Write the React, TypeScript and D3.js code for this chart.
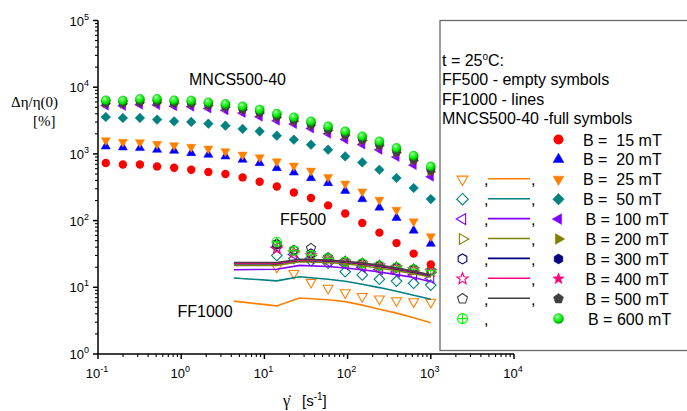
import React from "react";
import * as d3 from "d3";

const width = 687;
const height = 411;

// shear rate grid (s^-1)
const shearRate = [0.124, 0.199, 0.319, 0.513, 0.822, 1.32, 2.12, 3.4, 5.47, 8.77, 14.1, 22.6, 36.3, 58.3, 93.6, 150, 241, 387, 622, 1000];
const ff500Rate = [14.1, 22.6, 36.3, 58.3, 93.6, 150, 241, 387, 622, 1000];
const ff1000Rate = [4.3, 14, 26.5, 58.3, 93.6, 150, 241, 387, 622, 1000];

// MNCS500-40 (full symbols)
const mncs15 = [730, 695, 695, 649, 621, 579, 535, 499, 444, 383, 325, 264, 218, 169, 128, 92, 66, 46, 32, 22];
const mncs20 = [1297, 1253, 1227, 1156, 1117, 1031, 972, 917, 819, 730, 614, 527, 435, 366, 280, 210, 157, 110, 71, 45];
const mncs25 = [1596, 1510, 1490, 1409, 1343, 1270, 1197, 1091, 972, 887, 771, 665, 559, 450, 357, 273, 205, 145, 97, 58];
const mncs50 = [3573, 3457, 3457, 3265, 3077, 3013, 2840, 2647, 2366, 2178, 1876, 1633, 1374, 1156, 917, 745, 579, 435, 308, 210];
const mncs100 = [5300, 5250, 5450, 5400, 5200, 5100, 4800, 4500, 4100, 3600, 3150, 2800, 2400, 2000, 1650, 1380, 1150, 900, 680, 455];
const mncs200 = [5700, 5650, 5900, 5900, 5700, 5600, 5300, 5000, 4600, 4100, 3550, 3100, 2700, 2250, 1900, 1580, 1320, 1040, 790, 540];
const mncs300 = [5900, 5850, 6100, 6100, 5900, 5800, 5500, 5200, 4750, 4250, 3700, 3250, 2800, 2350, 1980, 1660, 1390, 1100, 840, 580];
const mncs400 = [5850, 5800, 6050, 6050, 5850, 5750, 5450, 5150, 4700, 4200, 3650, 3200, 2780, 2320, 1950, 1640, 1370, 1080, 820, 565];
const mncs500 = [5800, 5750, 6000, 6000, 5800, 5700, 5400, 5100, 4650, 4150, 3600, 3150, 2750, 2300, 1930, 1620, 1350, 1070, 810, 560];
const mncs600 = [6357, 6309, 6675, 6675, 6357, 6309, 5935, 5615, 5164, 4611, 4015, 3532, 3077, 2589, 2178, 1832, 1542, 1227, 940, 649];

// FF500 (empty symbols)
const ff500_25 = [20, 16.2, 11.9, 9.7, 8.3, 7.3, 6.7, 6.3, 6.1, 6.0];
const ff500_50 = [30, 27, 25, 22.9, 17.1, 15.3, 13.2, 12.4, 11.5, 10.8];
const ff500_100 = [40, 31, 27, 24, 22, 20, 18.5, 17, 15.3, 13.6];
const ff500_200 = [42, 34, 30, 26.5, 23.5, 22, 20.3, 19, 17.8, 16.8];
const ff500_300 = [44, 36, 32, 27.5, 24.3, 22.8, 21, 19.8, 18.5, 17.5];
const ff500_400 = [37.5, 33, 30, 26.5, 24, 22.5, 21, 19.7, 18.3, 17.3];
const ff500_500 = [45, 36, 38.5, 28, 24.5, 23, 21.3, 20, 18.8, 17.9];
const ff500_600 = [48, 35.4, 30.5, 27.2, 24.2, 22.9, 21.1, 19.9, 18.6, 17.7];

// FF1000 (lines)
const ff1000_25 = [6.2, 5.26, 6.9, 6.5, 6.1, 5.4, 4.7, 4.1, 3.5, 2.95];
const ff1000_50 = [13.8, 12.5, 14.4, 13.2, 12.3, 11.1, 9.9, 8.7, 7.6, 6.6];
const ff1000_100 = [18.3, 18.6, 21.3, 20.5, 19.5, 18.3, 17, 15.5, 14, 12.1];
const ff1000_200 = [21.3, 21.3, 24.2, 23.5, 22.5, 21, 19.5, 17.8, 16, 14.3];
const ff1000_300 = [22.5, 22.5, 25.4, 24.8, 23.8, 22.3, 20.7, 18.8, 16.8, 14.9];
const ff1000_400 = [23, 23, 25.8, 25.2, 24.2, 22.7, 21.1, 19.2, 17.2, 15.1];
const ff1000_500 = [23.5, 23.5, 26.3, 25.6, 24.6, 23.1, 21.5, 19.5, 17.5, 15.3];

const fieldLabels = ["B =  15 mT", "B =  20 mT", "B =  25 mT", "B =  50 mT", "B = 100 mT", "B = 200 mT", "B = 300 mT", "B = 400 mT", "B = 500 mT", "B = 600 mT"];
const fieldColors = ["#FF0000", "#0000FF", "#FF8000", "#008080", "#8000FF", "#808000", "#000080", "#FF0080", "#404040", "#00FF00"];
const fullShapes = ["circle", "up", "down", "diamond", "left", "right", "hex", "star", "pent", "ball"];
const emptyShapes = [null, null, "down", "diamond", "left", "right", "hex", "star", "pent", "cross"];

const mncsData = [mncs15, mncs20, mncs25, mncs50, mncs100, mncs200, mncs300, mncs400, mncs500, mncs600];
const ff500Data = [null, null, ff500_25, ff500_50, ff500_100, ff500_200, ff500_300, ff500_400, ff500_500, ff500_600];
const ff1000Data = [null, null, ff1000_25, ff1000_50, ff1000_100, ff1000_200, ff1000_300, ff1000_400, ff1000_500, null];

const xTickExp = [-1, 0, 1, 2, 3, 4];
const yTickExp = [0, 1, 2, 3, 4, 5];

const sans = "Arial, 'Liberation Sans', sans-serif";
const serif = "'Times New Roman', 'Liberation Serif', serif";

const x = d3.scaleLog().domain([0.1, 1e4]).range([98, 514]);
const y = d3.scaleLog().domain([1, 1e5]).range([354, 20.5]);

function polygon(n: number, r: number, startDeg: number, inner?: number) {
  const count = inner ? n * 2 : n;
  const pts = d3.range(count).map((k) => {
    const a = ((startDeg + (k * 360) / count) * Math.PI) / 180;
    const rr = inner && k % 2 === 1 ? inner : r;
    return [rr * Math.cos(a), rr * Math.sin(a)];
  });
  return "M" + pts.map((p) => p[0].toFixed(2) + "," + p[1].toFixed(2)).join("L") + "Z";
}

function shapePath(shape: string, r: number) {
  switch (shape) {
    case "up": return polygon(3, r * 1.25, -90);
    case "down": return polygon(3, r * 1.25, 90);
    case "left": return polygon(3, r * 1.25, 180);
    case "right": return polygon(3, r * 1.25, 0);
    case "diamond": return polygon(4, r * 1.15, -90);
    case "hex": return polygon(6, r, -90);
    case "pent": return polygon(5, r * 1.05, -90);
    case "star": return polygon(5, r * 1.2, -90, r * 0.5);
    default: return "";
  }
}

function Marker({ shape, cx, cy, r, color, filled }: any) {
  if (shape === "ball") {
    return <circle cx={cx} cy={cy} r={r} fill="url(#ball)" stroke="#00a000" strokeWidth={0.4} />;
  }
  if (shape === "circle") {
    return filled
      ? <circle cx={cx} cy={cy} r={r} fill={color} />
      : <circle cx={cx} cy={cy} r={r} fill="none" stroke={color} strokeWidth={1.1} />;
  }
  if (shape === "cross") {
    return (
      <g transform={`translate(${cx},${cy})`} fill="none" stroke={color} strokeWidth={1.1}>
        <circle r={r} />
        <path d={`M${-r},0H${r}M0,${-r}V${r}`} />
      </g>
    );
  }
  return (
    <path
      d={shapePath(shape, r)}
      transform={`translate(${cx},${cy})`}
      fill={filled ? color : "none"}
      stroke={color}
      strokeWidth={filled ? 0.5 : 1.1}
      strokeLinejoin="miter"
    />
  );
}

export default function App() {
  const line = d3
    .line<[number, number]>()
    .x((d) => x(d[0]))
    .y((d) => y(d[1]));

  const xMinor: number[] = [];
  const yMinor: number[] = [];
  xTickExp.slice(0, -1).forEach((e) => d3.range(2, 10).forEach((m) => xMinor.push(m * Math.pow(10, e))));
  yTickExp.slice(0, -1).forEach((e) => d3.range(2, 10).forEach((m) => yMinor.push(m * Math.pow(10, e))));

  const rowY = (k: number) => 139.5 + k * 19.9;

  return (
    <svg width={width} height={height} style={{ position: "absolute", left: 0, top: 0, background: "#fff" }}>
      <defs>
        <radialGradient id="ball" cx="38%" cy="32%" r="65%">
          <stop offset="0%" stopColor="#f4fff4" />
          <stop offset="25%" stopColor="#50ff50" />
          <stop offset="75%" stopColor="#00e800" />
          <stop offset="100%" stopColor="#00a000" />
        </radialGradient>
      </defs>

      {/* legend frame */}
      <rect x={440} y={20.5} width={260} height={330} fill="none" stroke="#6a6a6a" strokeWidth={1.3} />

      {/* FF500 empty symbols */}
      {ff500Data.map((vals, k) =>
        vals ? (
          <g key={"e" + k}>
            {vals.map((v, i) => (
              <Marker key={i} shape={emptyShapes[k]} cx={x(ff500Rate[i])} cy={y(v)} r={4.6} color={fieldColors[k]} filled={false} />
            ))}
          </g>
        ) : null
      )}

      {/* FF1000 lines */}
      {ff1000Data.map((vals, k) =>
        vals ? (
          <path
            key={"l" + k}
            d={line(vals.map((v, i) => [ff1000Rate[i], v]) as [number, number][]) || ""}
            fill="none"
            stroke={fieldColors[k]}
            strokeWidth={1.6}
          />
        ) : null
      )}

      {/* MNCS500-40 full symbols */}
      {mncsData.map((vals, k) => (
        <g key={"f" + k}>
          {vals.map((v, i) => (
            <Marker key={i} shape={fullShapes[k]} cx={x(shearRate[i])} cy={y(v)} r={k === 9 ? 4.6 : 4.2} color={fieldColors[k]} filled={true} />
          ))}
        </g>
      ))}

      {/* axes */}
      <g stroke="#000" strokeWidth={1.5} fill="none">
        <line x1={x(0.1)} x2={x(1e4)} y1={y(1)} y2={y(1)} />
        <line x1={x(0.1)} x2={x(0.1)} y1={y(1)} y2={y(1e5)} />
        {xTickExp.map((e) => (
          <line key={"xt" + e} x1={x(Math.pow(10, e))} x2={x(Math.pow(10, e))} y1={y(1)} y2={y(1) + 5} />
        ))}
        {xMinor.map((v, i) => (
          <line key={"xm" + i} x1={x(v)} x2={x(v)} y1={y(1)} y2={y(1) + 3} strokeWidth={1.1} />
        ))}
        {yTickExp.map((e) => (
          <line key={"yt" + e} x1={x(0.1) - 5} x2={x(0.1)} y1={y(Math.pow(10, e))} y2={y(Math.pow(10, e))} />
        ))}
        {yMinor.map((v, i) => (
          <line key={"ym" + i} x1={x(0.1) - 3} x2={x(0.1)} y1={y(v)} y2={y(v)} strokeWidth={1.1} />
        ))}
      </g>

      <g fontFamily={sans} fontSize={13} fill="#000">
        {xTickExp.map((e) => (
          <text key={"xl" + e} x={x(Math.pow(10, e)) - 1} y={378} textAnchor="middle">
            10<tspan fontSize={9} dy={-6}>{e}</tspan>
          </text>
        ))}
        {yTickExp.map((e) => (
          <text key={"yl" + e} x={89} y={y(Math.pow(10, e)) + 5} textAnchor="end">
            10<tspan fontSize={9} dy={-6}>{e}</tspan>
          </text>
        ))}
      </g>

      {/* axis titles */}
      <text x={11} y={107} fontFamily={serif} fontSize={15}>Δη/η(0)</text>
      <text x={33} y={126} fontFamily={serif} fontSize={15}>[%]</text>
      <text x={283} y={406} fontFamily={serif} fontSize={16}>γ̇</text>
      <text x={302} y={406} fontFamily={sans} fontSize={15}>
        [s<tspan fontSize={10} dy={-6}>-1</tspan><tspan dy={6}>]</tspan>
      </text>

      {/* annotations */}
      <g fontFamily={sans} fontSize={16} fill="#000">
        <text x={189} y={85}>MNCS500-40</text>
        <text x={280} y={225}>FF500</text>
        <text x={177.5} y={316.5}>FF1000</text>
      </g>

      {/* legend */}
      <g fontFamily={sans} fontSize={16} fill="#000">
        <text x={442} y={65.5}>
          t = 25<tspan fontSize={10} dy={-6}>o</tspan><tspan dy={6}>C:</tspan>
        </text>
        <text x={442} y={85}>FF500 - empty symbols</text>
        <text x={442} y={104.7}>FF1000 - lines</text>
        <text x={442} y={124.4}>MNCS500-40 -full symbols</text>
        {fieldLabels.map((lab, k) => (
          <g key={"lg" + k}>
            {emptyShapes[k] ? (
              <>
                <Marker shape={emptyShapes[k]} cx={462.5} cy={rowY(k)} r={5} color={fieldColors[k]} filled={false} />
                <text x={484} y={rowY(k) + 6}>,</text>
              </>
            ) : null}
            {ff1000Data[k] ? (
              <>
                <line x1={488} x2={530} y1={rowY(k) - 0.5} y2={rowY(k) - 0.5} stroke={fieldColors[k]} strokeWidth={1.6} />
                <text x={531} y={rowY(k) + 6}>,</text>
              </>
            ) : null}
            <Marker shape={fullShapes[k]} cx={558.5} cy={rowY(k)} r={5} color={fieldColors[k]} filled={true} />
            <text x={k === 9 ? 588 : k < 4 ? 583 : 585.5} y={rowY(k) + 6} style={{ whiteSpace: "pre" }}>{lab}</text>
          </g>
        ))}
      </g>
    </svg>
  );
}
